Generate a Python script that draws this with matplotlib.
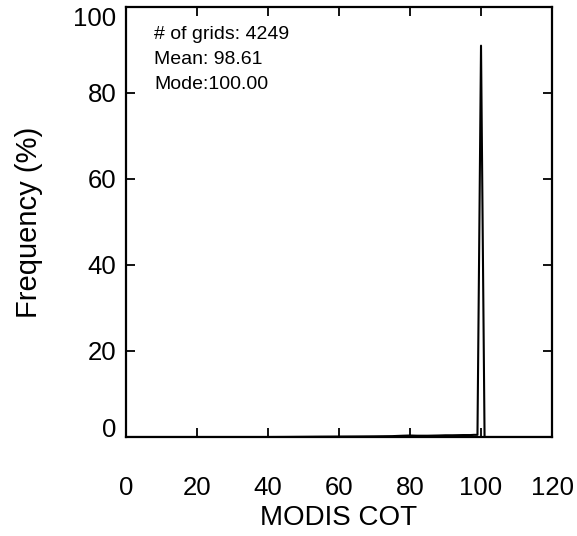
import numpy as np
import matplotlib.pyplot as plt

plt.rcParams['font.family'] = ['Liberation Sans', 'DejaVu Sans']

# histogram of MODIS COT (bin centres, frequency in %)
cot = [0, 10, 20, 30, 40, 45, 50, 55, 60, 65, 70, 75, 78, 80, 82, 85, 88, 90, 92, 95, 97, 98, 99, 100, 101, 120]
freq = [0, 0, 0, 0, 0, 0.02, 0.05, 0.08, 0.1, 0.12, 0.15, 0.2, 0.3, 0.35, 0.3, 0.3, 0.35, 0.4, 0.4, 0.45, 0.45, 0.5, 0.5, 91.0, 0, 0]

stats = ["# of grids: 4249", "Mean: 98.61", "Mode:100.00"]

fig = plt.figure(figsize=(5.77, 5.36), dpi=100)
ax = fig.add_axes([0.2184, 0.1847, 0.7383, 0.8023])

ax.plot(cot, freq, color='black', lw=1.5)

ax.set_xlim(0, 120)
ax.set_ylim(0, 100)
ax.set_xticks(np.arange(0, 121, 20))
ax.set_yticks(np.arange(0, 101, 20))
ax.tick_params(direction='in', length=6.5, width=1.3, top=True, right=True,
               labelsize=18.5)
ax.tick_params(axis='x', pad=28)
ax.tick_params(axis='y', pad=7)
for s in ax.spines.values():
    s.set_linewidth(1.6)

# keep end labels inside the frame like the original
ylabs = ax.get_yticklabels()
ylabs[0].set_va('baseline')
ylabs[-1].set_va('top')

ax.set_xlabel("MODIS COT", fontsize=20, labelpad=4)
ax.set_ylabel("Frequency (%)", fontsize=21, labelpad=22)

for i, t in enumerate(stats):
    ax.text(8.0, 93.5 - i * 5.8, t, fontsize=14, va='center', ha='left')

fig.savefig("out.png", dpi=100)
